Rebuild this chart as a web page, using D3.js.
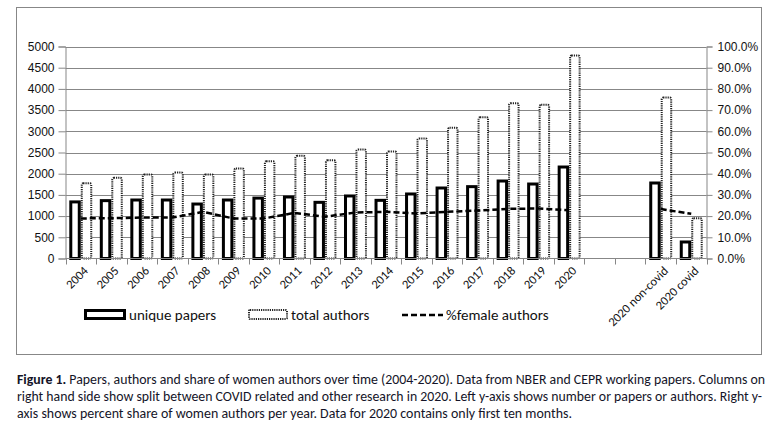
<!DOCTYPE html>
<html>
<head>
<meta charset="utf-8">
<script src="https://cdn.jsdelivr.net/npm/d3@7"></script>
<style>
  body { margin: 0; background: #fff; }
  svg { display: block; font-family: Carlito, Calibri, Lato, "Open Sans", sans-serif; }
</style>
</head>
<body>
<svg id="chart" width="778" height="438"></svg>
<script>
// categories (two empty slots separate the 2020 split)
const categories = ["2004", "2005", "2006", "2007", "2008", "2009", "2010", "2011", "2012",
  "2013", "2014", "2015", "2016", "2017", "2018", "2019", "2020", "", "", "2020 non-covid", "2020 covid"];
const uniquePapers = [1370, 1400, 1415, 1415, 1320, 1415, 1460, 1486, 1360, 1510, 1407,
  1557, 1698, 1730, 1863, 1792, 2193, null, null, 1816, 425];
const totalAuthors = [1800, 1926, 2005, 2050, 2005, 2146, 2320, 2445, 2343, 2594, 2547,
  2854, 3105, 3357, 3687, 3648, 4811, null, null, 3820, 975];
const femaleShare = [0.189, 0.190, 0.193, 0.193, 0.220, 0.189, 0.189, 0.215, 0.197, 0.217, 0.220,
  0.212, 0.220, 0.226, 0.234, 0.236, 0.228, null, null, 0.233, 0.211];
const leftTicks = d3.range(0, 5001, 500);
const rightTicks = d3.range(0, 1.0001, 0.1);
const caption = [
  "Papers, authors and share of women authors over time (2004-2020). Data from NBER and CEPR working papers. Columns on",
  "right hand side show split between COVID related and other research in 2020. Left y-axis shows number or papers or authors. Right y-",
  "axis shows percent share of women authors per year. Data for 2020 contains only first ten months."
];

const svg = d3.select("#chart");
const grid = "#878787";

// outer frame
svg.append("rect").attr("x", 16.5).attr("y", 7.5).attr("width", 745).attr("height", 347)
  .attr("fill", "none").attr("stroke", grid);

const pLeft = 65.5, pRight = 706.5, pTop = 46.5, pBottom = 258.5;

const x = d3.scaleBand().domain(d3.range(categories.length)).range([pLeft, pRight]);
const sub = d3.scaleBand().domain(["papers", "authors"]).range([0, x.bandwidth()]).paddingOuter(0.33);
const y = d3.scaleLinear().domain([0, 5000]).range([pBottom, pTop]);
const yr = d3.scaleLinear().domain([0, 1]).range([pBottom, pTop]);

// gridlines
svg.append("g").selectAll("line").data(leftTicks.slice(1)).join("line")
  .attr("x1", pLeft).attr("x2", pRight)
  .attr("y1", d => Math.round(y(d)) + 0.5).attr("y2", d => Math.round(y(d)) + 0.5)
  .attr("stroke", grid);

// left axis
const gl = svg.append("g").attr("transform", `translate(${pLeft},0)`)
  .call(d3.axisLeft(y).tickValues(leftTicks).tickSize(7).tickPadding(4).tickFormat(d3.format("d")));
// right axis
const gr = svg.append("g").attr("transform", `translate(${pRight},0)`)
  .call(d3.axisRight(yr).tickValues(rightTicks).tickSize(6).tickPadding(5).tickFormat(d3.format(".1%")));
[gl, gr].forEach(g => {
  g.select(".domain").attr("stroke", grid);
  g.selectAll(".tick line").attr("stroke", grid);
  g.selectAll(".tick text").attr("fill", "#111").style("font-size", "12px");
});

// bars
const bars = svg.append("g");
bars.selectAll("rect.papers").data(uniquePapers.map((v, i) => ({ v, i })).filter(d => d.v != null))
  .join("rect").attr("class", "papers")
  .attr("x", d => x(d.i) + sub("papers") + 1.5).attr("width", sub.bandwidth() - 3)
  .attr("y", d => y(d.v) + 1.5).attr("height", d => pBottom - y(d.v) - 1.5)
  .attr("fill", "#fff").attr("stroke", "#000").attr("stroke-width", 3);
bars.selectAll("rect.authors").data(totalAuthors.map((v, i) => ({ v, i })).filter(d => d.v != null))
  .join("rect").attr("class", "authors")
  .attr("x", d => x(d.i) + sub("authors") + 1).attr("width", sub.bandwidth() - 2)
  .attr("y", d => y(d.v) + 1).attr("height", d => pBottom - y(d.v) - 1)
  .attr("rx", 1.5)
  .attr("fill", "#fff").attr("stroke", "#222").attr("stroke-width", 2).attr("stroke-dasharray", "1.2,1");

// bottom axis
const gx = svg.append("g").attr("transform", `translate(0,${pBottom})`);
gx.append("line").attr("x1", pLeft).attr("x2", pRight).attr("stroke", grid);
gx.selectAll("line.tk").data(d3.range(categories.length + 1)).join("line").attr("class", "tk")
  .attr("x1", i => Math.round(pLeft + i * x.step()) + 0.5).attr("x2", i => Math.round(pLeft + i * x.step()) + 0.5)
  .attr("y1", 0).attr("y2", 6).attr("stroke", grid);
gx.selectAll("text").data(categories.map((c, i) => ({ c, i })).filter(d => d.c !== ""))
  .join("text")
  .attr("transform", d => `translate(${x(d.i) + x.bandwidth() / 2 + 5},${10}) rotate(-45)`)
  .attr("text-anchor", "end").attr("dy", "0.35em")
  .style("font-size", "12.5px").attr("fill", "#111")
  .text(d => d.c);

// female share line
const line = d3.line()
  .defined(d => d != null)
  .x((d, i) => x(i) + x.bandwidth() / 2)
  .y(d => yr(d));
svg.append("path").attr("d", line(femaleShare))
  .attr("fill", "none").attr("stroke", "#000").attr("stroke-width", 2.5).attr("stroke-dasharray", "6,3");

// legend
const lg = svg.append("g").style("font-size", "15px");
lg.append("rect").attr("x", 85.5).attr("y", 310.5).attr("width", 39).attr("height", 8)
  .attr("fill", "#fff").attr("stroke", "#000").attr("stroke-width", 3);
lg.append("text").attr("x", 129).attr("y", 320).attr("fill", "#111").text("unique papers");
lg.append("rect").attr("x", 249).attr("y", 310).attr("width", 38).attr("height", 9).attr("rx", 1)
  .attr("fill", "#fff").attr("stroke", "#222").attr("stroke-width", 2).attr("stroke-dasharray", "1.2,1");
lg.append("text").attr("x", 291).attr("y", 320).attr("fill", "#111").text("total authors");
lg.append("line").attr("x1", 402).attr("x2", 443).attr("y1", 315).attr("y2", 315)
  .attr("stroke", "#000").attr("stroke-width", 2.5).attr("stroke-dasharray", "6,3");
lg.append("text").attr("x", 446).attr("y", 320).attr("fill", "#111").text("%female authors");

// caption
const cap = svg.append("g").attr("fill", "#141428").style("font-size", "13.5px");
const widths = [748, 745, 555];
caption.forEach((t, k) => {
  const tx = cap.append("text").attr("x", 17).attr("y", 384 + k * 17)
    .attr("textLength", widths[k]).attr("lengthAdjust", "spacingAndGlyphs");
  if (k === 0) {
    tx.append("tspan").attr("font-weight", "bold").text("Figure 1.");
    tx.append("tspan").text(" " + t);
  } else {
    tx.text(t);
  }
});
</script>
</body>
</html>
